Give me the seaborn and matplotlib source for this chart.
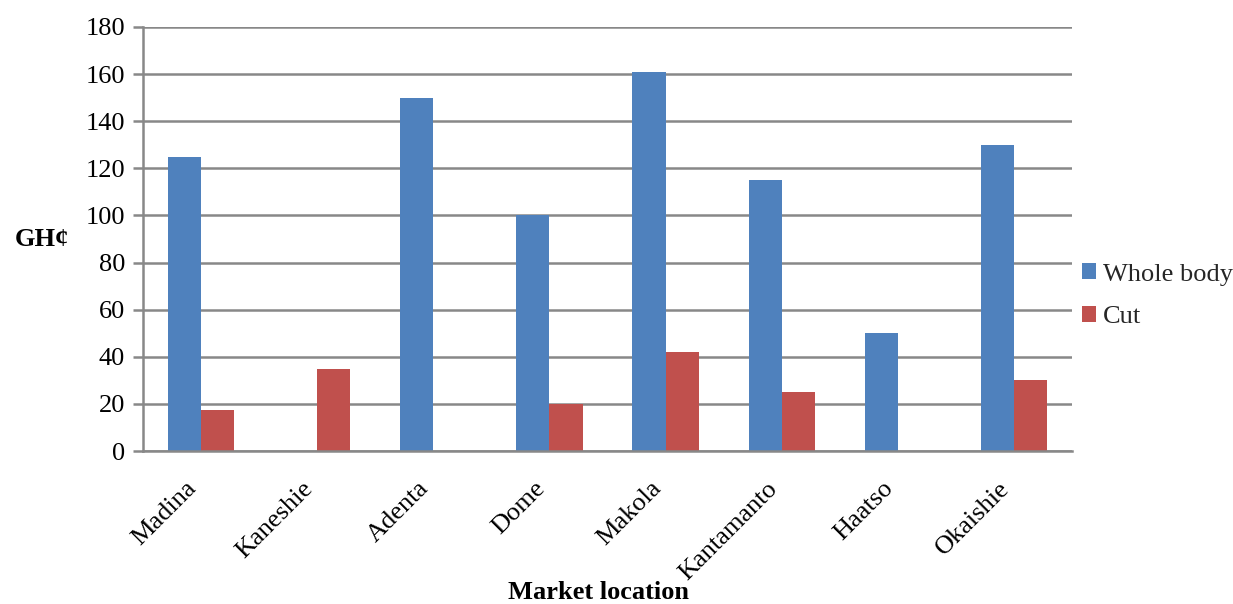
import matplotlib
matplotlib.use("Agg")
import matplotlib.pyplot as plt
import seaborn as sns
import pandas as pd

markets = ["Madina", "Kaneshie", "Adenta", "Dome", "Makola", "Kantamanto", "Haatso", "Okaishie"]
whole_body = [125, 0, 150, 100, 161, 115, 50, 130]
cut = [17.5, 35, 0, 20, 42, 25, 0, 30]
series_names = ["Whole body", "Cut"]
y_ticks = [0, 20, 40, 60, 80, 100, 120, 140, 160, 180]

sns.set_theme(style="white")
plt.rcParams["font.family"] = ["Liberation Serif", "DejaVu Serif"]

df = pd.DataFrame({
    "Market location": markets * 2,
    "Price": whole_body + cut,
    "Type": [series_names[0]] * len(markets) + [series_names[1]] * len(markets),
})

fs = 19
grid_col = "#888888"
fig = plt.figure(figsize=(12.33, 6.04), dpi=100)
ax = fig.add_axes([0.116, 0.2533, 0.7534, 0.702])

sns.barplot(data=df, x="Market location", y="Price", hue="Type",
            palette=["#4F81BD", "#C0504D"], width=0.57, gap=0,
            saturation=1, linewidth=0, ax=ax, legend=True)

ax.set_ylim(0, 180)
ax.set_yticks(y_ticks)
ax.set_xlim(-0.5, len(markets) - 0.5)
ax.yaxis.grid(True, color=grid_col, linewidth=1.8)
ax.set_axisbelow(True)
for s in ["top", "right"]:
    ax.spines[s].set_visible(False)
for s in ["left", "bottom"]:
    ax.spines[s].set_color(grid_col)
    ax.spines[s].set_linewidth(1.8)

ax.tick_params(axis="y", which="major", left=True, length=7, width=1.8,
               color=grid_col, labelsize=fs, pad=6, labelcolor="black")
ax.tick_params(axis="x", bottom=False, labelsize=fs, pad=13, labelcolor="black")
plt.setp(ax.get_xticklabels(), rotation=45, ha="right")

ax.set_xlabel("Market location", fontsize=fs, fontweight="bold", color="black")
ax.xaxis.label.set_va("center")
ax.xaxis.set_label_coords(0.49, -0.333)
ax.set_ylabel("GH¢", fontsize=fs, fontweight="bold", rotation=0,
              va="center", ha="center", color="black")
ax.yaxis.set_label_coords(-0.109, 0.498)

ax.legend(loc="center left", bbox_to_anchor=(1.011, 0.366), frameon=False,
          fontsize=fs, handlelength=0.53, handleheight=0.53, handletextpad=0.25,
          labelspacing=0.78, borderpad=0, borderaxespad=0, title=None)

fig.savefig("out.png", dpi=100, facecolor="white")
